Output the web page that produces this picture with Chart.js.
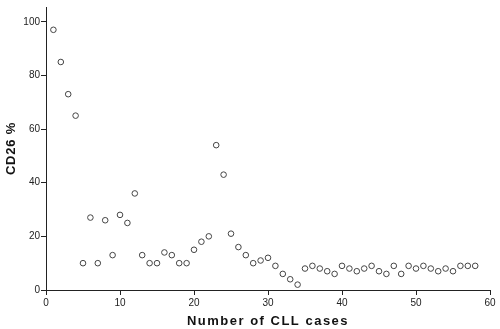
<!DOCTYPE html>
<html>
<head>
<meta charset="utf-8">
<script src="https://cdn.jsdelivr.net/npm/chart.js@4/dist/chart.umd.min.js"></script>
<style>
  html, body { margin: 0; padding: 0; background: #fff; }
  #wrap { width: 500px; height: 329px; position: relative; }
</style>
</head>
<body>
<div id="wrap"><canvas id="c" width="500" height="329"></canvas></div>
<script>
const caseNumbers = [1,2,3,4,5,6,7,8,9,10,11,12,13,14,15,16,17,18,19,20,21,22,23,24,25,26,27,28,29,30,31,32,33,34,35,36,37,38,39,40,41,42,43,44,45,46,47,48,49,50,51,52,53,54,55,56,57,58];
const cd26Values = [97,85,73,65,10,27,10,26,13,28,25,36,13,10,10,14,13,10,10,15,18,20,54,43,21,16,13,10,11,12,9,6,4,2,8,9,8,7,6,9,8,7,8,9,7,6,9,6,9,8,9,8,7,8,7,9,9,9];
const xTicks = [0,10,20,30,40,50,60];
const yTicks = [0,20,40,60,80,100];
const xTitle = 'Number of CLL cases';
const yTitle = 'CD26 %';

const points = caseNumbers.map((x, i) => ({ x: x, y: cd26Values[i] }));

const spacingPlugin = {
  id: 'titleSpacing',
  afterLayout(chart) {
    const spacing = { x: '1.5px', y: '0.8px' };
    for (const id of ['x', 'y']) {
      const s = chart.scales[id];
      if (s && !s._wrappedTitle) {
        const orig = s.drawTitle.bind(s);
        s.drawTitle = function () {
          const ctx = this.ctx;
          const prev = ctx.letterSpacing;
          ctx.letterSpacing = spacing[id];
          orig();
          ctx.letterSpacing = prev || '0px';
        };
        s._wrappedTitle = true;
      }
    }
  }
};

const FONT = "'Liberation Sans', Arial, sans-serif";

new Chart(document.getElementById('c'), {
  type: 'scatter',
  data: {
    datasets: [{
      data: points,
      pointStyle: 'circle',
      pointRadius: 2.8,
      pointBorderWidth: 1,
      pointBorderColor: '#444',
      pointBackgroundColor: 'rgba(255,255,255,0)',
      pointHoverRadius: 2.8
    }]
  },
  options: {
    responsive: false,
    animation: false,
    layout: { padding: { top: 4, right: 10, bottom: 0, left: 0 } },
    plugins: { legend: { display: false }, tooltip: { enabled: false } },
    scales: {
      x: {
        type: 'linear',
        min: 0,
        max: 60,
        afterBuildTicks(scale) { scale.ticks = xTicks.map(v => ({ value: v })); },
        afterFit(scale) { scale.height = 39; },
        border: { display: true, color: '#222', width: 1 },
        grid: { drawOnChartArea: false, drawTicks: true, tickLength: 5, color: '#222' },
        ticks: { color: '#222', font: { family: FONT, size: 10 }, padding: 2, maxRotation: 0, autoSkip: false },
        title: { display: true, text: xTitle, color: '#111', font: { family: FONT, size: 13, weight: 'bold' }, padding: { top: 0, bottom: 0 } }
      },
      y: {
        type: 'linear',
        min: 0,
        max: 105.5,
        afterBuildTicks(scale) { scale.ticks = yTicks.map(v => ({ value: v })); },
        afterFit(scale) { scale.width = 46; },
        border: { display: true, color: '#222', width: 1 },
        grid: { drawOnChartArea: false, drawTicks: true, tickLength: 5, color: '#222' },
        ticks: { color: '#222', font: { family: FONT, size: 10 }, padding: 1 },
        title: { display: true, text: yTitle, color: '#111', font: { family: FONT, size: 13, weight: 'bold' }, padding: { top: 4, bottom: 0 } }
      }
    }
  },
  plugins: [spacingPlugin]
});
</script>
</body>
</html>
